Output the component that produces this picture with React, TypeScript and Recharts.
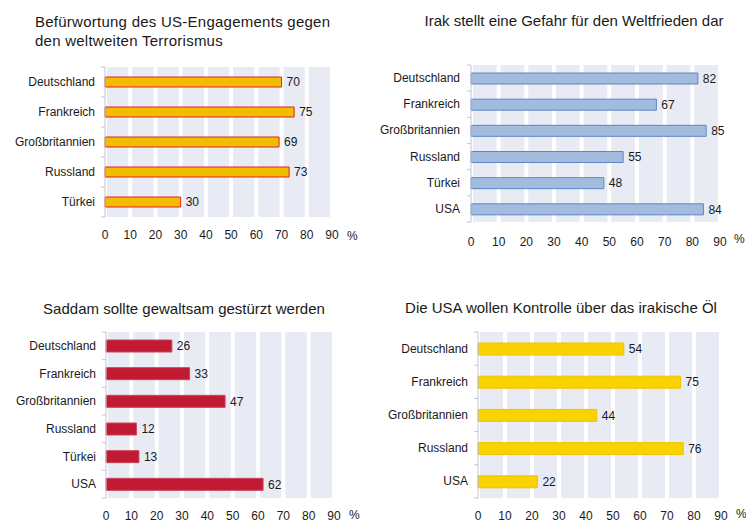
import React from "react";
import { BarChart, Bar, XAxis, YAxis, CartesianGrid, LabelList } from "recharts";

// Kategorien
const laender5a = ["Deutschland", "Frankreich", "Großbritannien", "Russland", "Türkei"];
const laender6 = ["Deutschland", "Frankreich", "Großbritannien", "Russland", "Türkei", "USA"];
const laender5b = ["Deutschland", "Frankreich", "Großbritannien", "Russland", "USA"];

// Werte in %
const terrorWerte = [70, 75, 69, 73, 30];
const irakWerte = [82, 67, 85, 55, 48, 84];
const saddamWerte = [26, 33, 47, 12, 13, 62];
const oelWerte = [54, 75, 44, 76, 22];

const xTicks = [0, 10, 20, 30, 40, 50, 60, 70, 80, 90];

const FONT = "Arial, 'Liberation Sans', sans-serif";
const TEXT = "#1a1a1a";

const toRows = (cats: string[], vals: number[]) => cats.map((name, i) => ({ name, value: vals[i] }));

// Kategorie-Label plus kleine Striche an den Bandgrenzen
const CatTick = (props: any) => {
  const { y, payload, index, visibleTicksCount, axisX, margin } = props;
  const half = payload.offset ?? 0;
  return (
    <g>
      <line x1={axisX - 4} x2={axisX} y1={y - half} y2={y - half} stroke="#C4C4DA" />
      {index === visibleTicksCount - 1 && (
        <line x1={axisX - 4} x2={axisX} y1={y + half} y2={y + half} stroke="#C4C4DA" />
      )}
      <text x={axisX - margin} y={y} textAnchor="end" dominantBaseline="central" fontSize={12} fill={TEXT} fontFamily={FONT}>
        {payload.value}
      </text>
    </g>
  );
};

type PanelProps = {
  left: number;
  top: number;
  title: string[];
  titleX: number;
  titleY: number;
  titleAlign: "left" | "center";
  titleSpacing?: number;
  cats: string[];
  vals: number[];
  fill: string;
  stroke: string;
  barSize: number;
  margin: { top: number; right: number; bottom: number; left: number };
  yWidth: number;
  labelGap: number;
  xTickMargin: number;
  pctX: number;
  pctY: number;
};

function Panel(p: PanelProps) {
  const data = toRows(p.cats, p.vals);
  return (
    <div style={{ position: "absolute", left: p.left, top: p.top, width: 373, height: 261 }}>
      <div
        style={{
          position: "absolute",
          left: p.titleAlign === "center" ? p.titleX - 200 : p.titleX,
          width: p.titleAlign === "center" ? 400 : 340,
          top: p.titleY,
          textAlign: p.titleAlign,
          fontFamily: FONT,
          fontSize: 15,
          lineHeight: "19px",
          letterSpacing: p.titleSpacing ?? 0,
          color: TEXT,
        }}
      >
        {p.title.map((t) => (
          <div key={t}>{t}</div>
        ))}
      </div>
      <BarChart
        width={373}
        height={261}
        data={data}
        layout="vertical"
        margin={p.margin}
        barCategoryGap={0}
        style={{ position: "absolute", left: 0, top: 0 }}
      >
        <CartesianGrid horizontal={false} stroke="#ffffff" strokeWidth={4} fill="#E8EAF4" fillOpacity={1} />
        <XAxis
          type="number"
          domain={[0, 90]}
          ticks={xTicks}
          axisLine={false}
          tickLine={false}
          tickMargin={p.xTickMargin}
          height={30}
          tick={{ fontSize: 12, fill: TEXT, fontFamily: FONT }}
        />
        <YAxis
          type="category"
          dataKey="name"
          width={p.yWidth}
          axisLine={{ stroke: "#C4C4DA" }}
          tickLine={false}
          tick={(tp: any) => <CatTick {...tp} axisX={p.margin.left + p.yWidth} margin={p.labelGap} />}
        />
        <Bar dataKey="value" fill={p.fill} stroke={p.stroke} strokeWidth={1} barSize={p.barSize} isAnimationActive={false}>
          <LabelList dataKey="value" position="right" offset={5} style={{ fontSize: 12, fill: TEXT, fontFamily: FONT }} />
        </Bar>
      </BarChart>
      <div style={{ position: "absolute", left: p.pctX, top: p.pctY, fontFamily: FONT, fontSize: 12, color: TEXT }}>%</div>
    </div>
  );
}

export default function App() {
  return (
    <div style={{ position: "absolute", left: 0, top: 0, width: 746, height: 522, background: "#fff", overflow: "hidden" }}>
      <Panel
        left={0}
        top={0}
        title={["Befürwortung des US-Engagements gegen", "den weltweiten Terrorismus"]}
        titleX={35}
        titleY={12}
        titleAlign="left"
        titleSpacing={0.25}
        cats={laender5a}
        vals={terrorWerte}
        fill="#F2BC00"
        stroke="#E0202E"
        barSize={10}
        margin={{ top: 67, right: 41, bottom: 14, left: 0 }}
        yWidth={105}
        labelGap={10}
        xTickMargin={7}
        pctX={347}
        pctY={229}
      />
      <Panel
        left={373}
        top={0}
        title={["Irak stellt eine Gefahr für den Weltfrieden dar"]}
        titleX={201}
        titleY={11}
        titleAlign="center"
        cats={laender6}
        vals={irakWerte}
        fill="#A3BCDD"
        stroke="#5C86C4"
        barSize={11}
        margin={{ top: 65, right: 26, bottom: 9, left: 0 }}
        yWidth={98}
        labelGap={11}
        xTickMargin={9}
        pctX={361}
        pctY={232}
      />
      <Panel
        left={0}
        top={261}
        title={["Saddam sollte gewaltsam gestürzt werden"]}
        titleX={184}
        titleY={38}
        titleAlign="center"
        cats={laender6}
        vals={saddamWerte}
        fill="#C21A32"
        stroke="#CC4457"
        barSize={12}
        margin={{ top: 71, right: 39, bottom: -6, left: 0 }}
        yWidth={106}
        labelGap={10}
        xTickMargin={7}
        pctX={349}
        pctY={247}
      />
      <Panel
        left={373}
        top={261}
        title={["Die USA wollen Kontrolle über das irakische Öl"]}
        titleX={188}
        titleY={37}
        titleAlign="center"
        cats={laender5b}
        vals={oelWerte}
        fill="#F8D300"
        stroke="#EEC400"
        barSize={12}
        margin={{ top: 71, right: 25, bottom: -6, left: 0 }}
        yWidth={105}
        labelGap={10}
        xTickMargin={7}
        pctX={363}
        pctY={246}
      />
    </div>
  );
}
